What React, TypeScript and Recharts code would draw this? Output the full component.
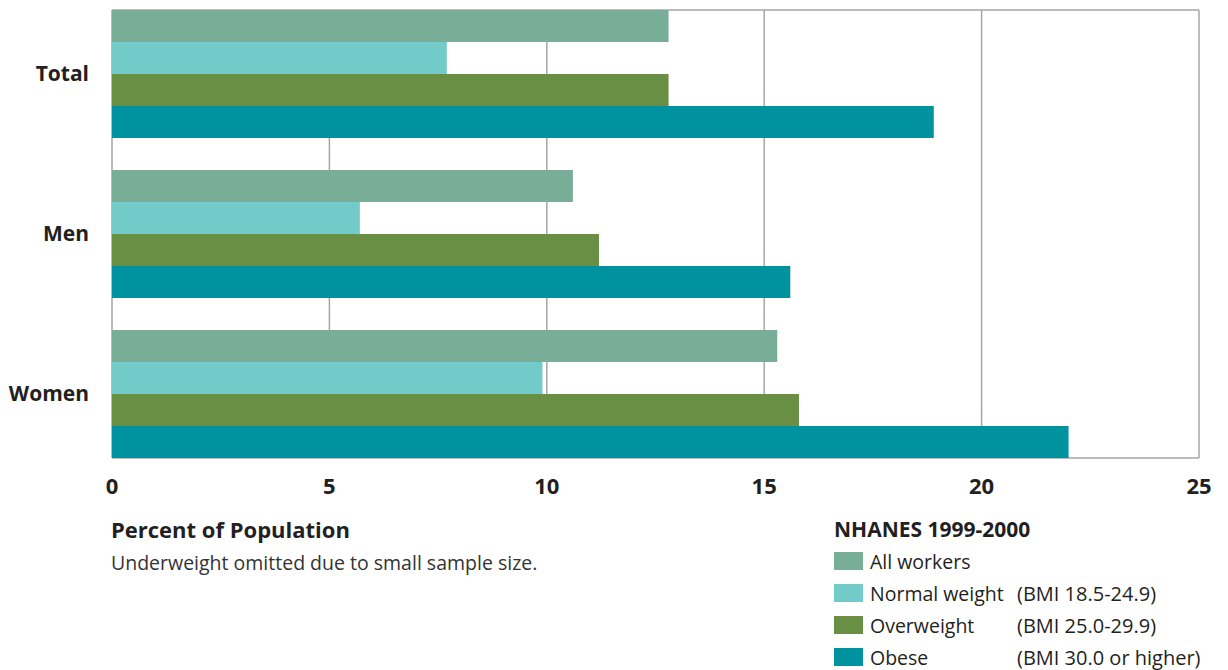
import { BarChart, Bar, XAxis, YAxis, CartesianGrid } from "recharts";

const groups = ["Total", "Men", "Women"];
const allWorkers = [12.8, 10.6, 15.3];
const normalWeight = [7.7, 5.7, 9.9];
const overweight = [12.8, 11.2, 15.8];
const obese = [18.9, 15.6, 22.0];
const xTicks = [0, 5, 10, 15, 20, 25];

const series = [
  { key: "all", name: "All workers", bmi: "", color: "#78ae98", values: allWorkers },
  { key: "normal", name: "Normal weight", bmi: "(BMI 18.5-24.9)", color: "#72cbc8", values: normalWeight },
  { key: "over", name: "Overweight", bmi: "(BMI 25.0-29.9)", color: "#688f43", values: overweight },
  { key: "obese", name: "Obese", bmi: "(BMI 30.0 or higher)", color: "#00929f", values: obese },
];

const data = groups.map((group, i) => {
  const row: Record<string, string | number> = { group };
  series.forEach((s) => {
    row[s.key] = s.values[i];
  });
  return row;
});

const FONT = "'Open Sans', 'Noto Sans', sans-serif";
const GRID = "#a6a6a6";

function LegendBox() {
  return (
    <div style={{ position: "absolute", left: 834, top: 513, fontFamily: FONT, color: "#231f20" }}>
      <div style={{ fontWeight: 700, fontSize: 21, lineHeight: "32px" }}>NHANES 1999-2000</div>
      {series.map((s) => (
        <div key={s.key} style={{ display: "flex", alignItems: "center", height: 32, fontSize: 19.5 }}>
          <span style={{ width: 29, height: 18, background: s.color, marginRight: 7 }} />
          <span style={{ width: 147 }}>{s.name}</span>
          <span style={{ fontSize: 20 }}>{s.bmi}</span>
        </div>
      ))}
    </div>
  );
}

export default function App() {
  return (
    <div style={{ position: "absolute", left: 0, top: 0, width: 1228, height: 670, background: "#fff" }}>
      <BarChart
        width={1228}
        height={670}
        data={data}
        layout="vertical"
        margin={{ top: 10, right: 29, bottom: 182, left: 0 }}
        barCategoryGap={32}
        barGap={0}
      >
        <CartesianGrid
          stroke={GRID}
          strokeWidth={1.5}
          horizontalCoordinatesGenerator={({ offset }: any) => [offset.top, offset.top + offset.height]}
        />
        <XAxis
          type="number"
          domain={[0, 25]}
          ticks={xTicks}
          height={30}
          axisLine={false}
          tickLine={false}
          tickMargin={14}
          tick={{ fill: "#231f20", fontSize: 22, fontWeight: 700, fontFamily: FONT }}
        />
        <YAxis
          type="category"
          dataKey="group"
          width={112}
          padding={{ top: -16, bottom: -16 }}
          axisLine={false}
          tickLine={false}
          tickMargin={17}
          tick={{ fill: "#231f20", fontSize: 21, fontWeight: 700, fontFamily: FONT }}
        />
        {series.map((s) => (
          <Bar key={s.key} dataKey={s.key} name={s.name} fill={s.color} barSize={32} isAnimationActive={false} />
        ))}
      </BarChart>
      <div style={{ position: "absolute", left: 111, top: 513, fontFamily: FONT, color: "#231f20" }}>
        <div style={{ fontWeight: 700, fontSize: 22, lineHeight: "32px" }}>Percent of Population</div>
        <div style={{ fontSize: 19.5, lineHeight: "36px", color: "#333" }}>
          Underweight omitted due to small sample size.
        </div>
      </div>
      <LegendBox />
    </div>
  );
}
